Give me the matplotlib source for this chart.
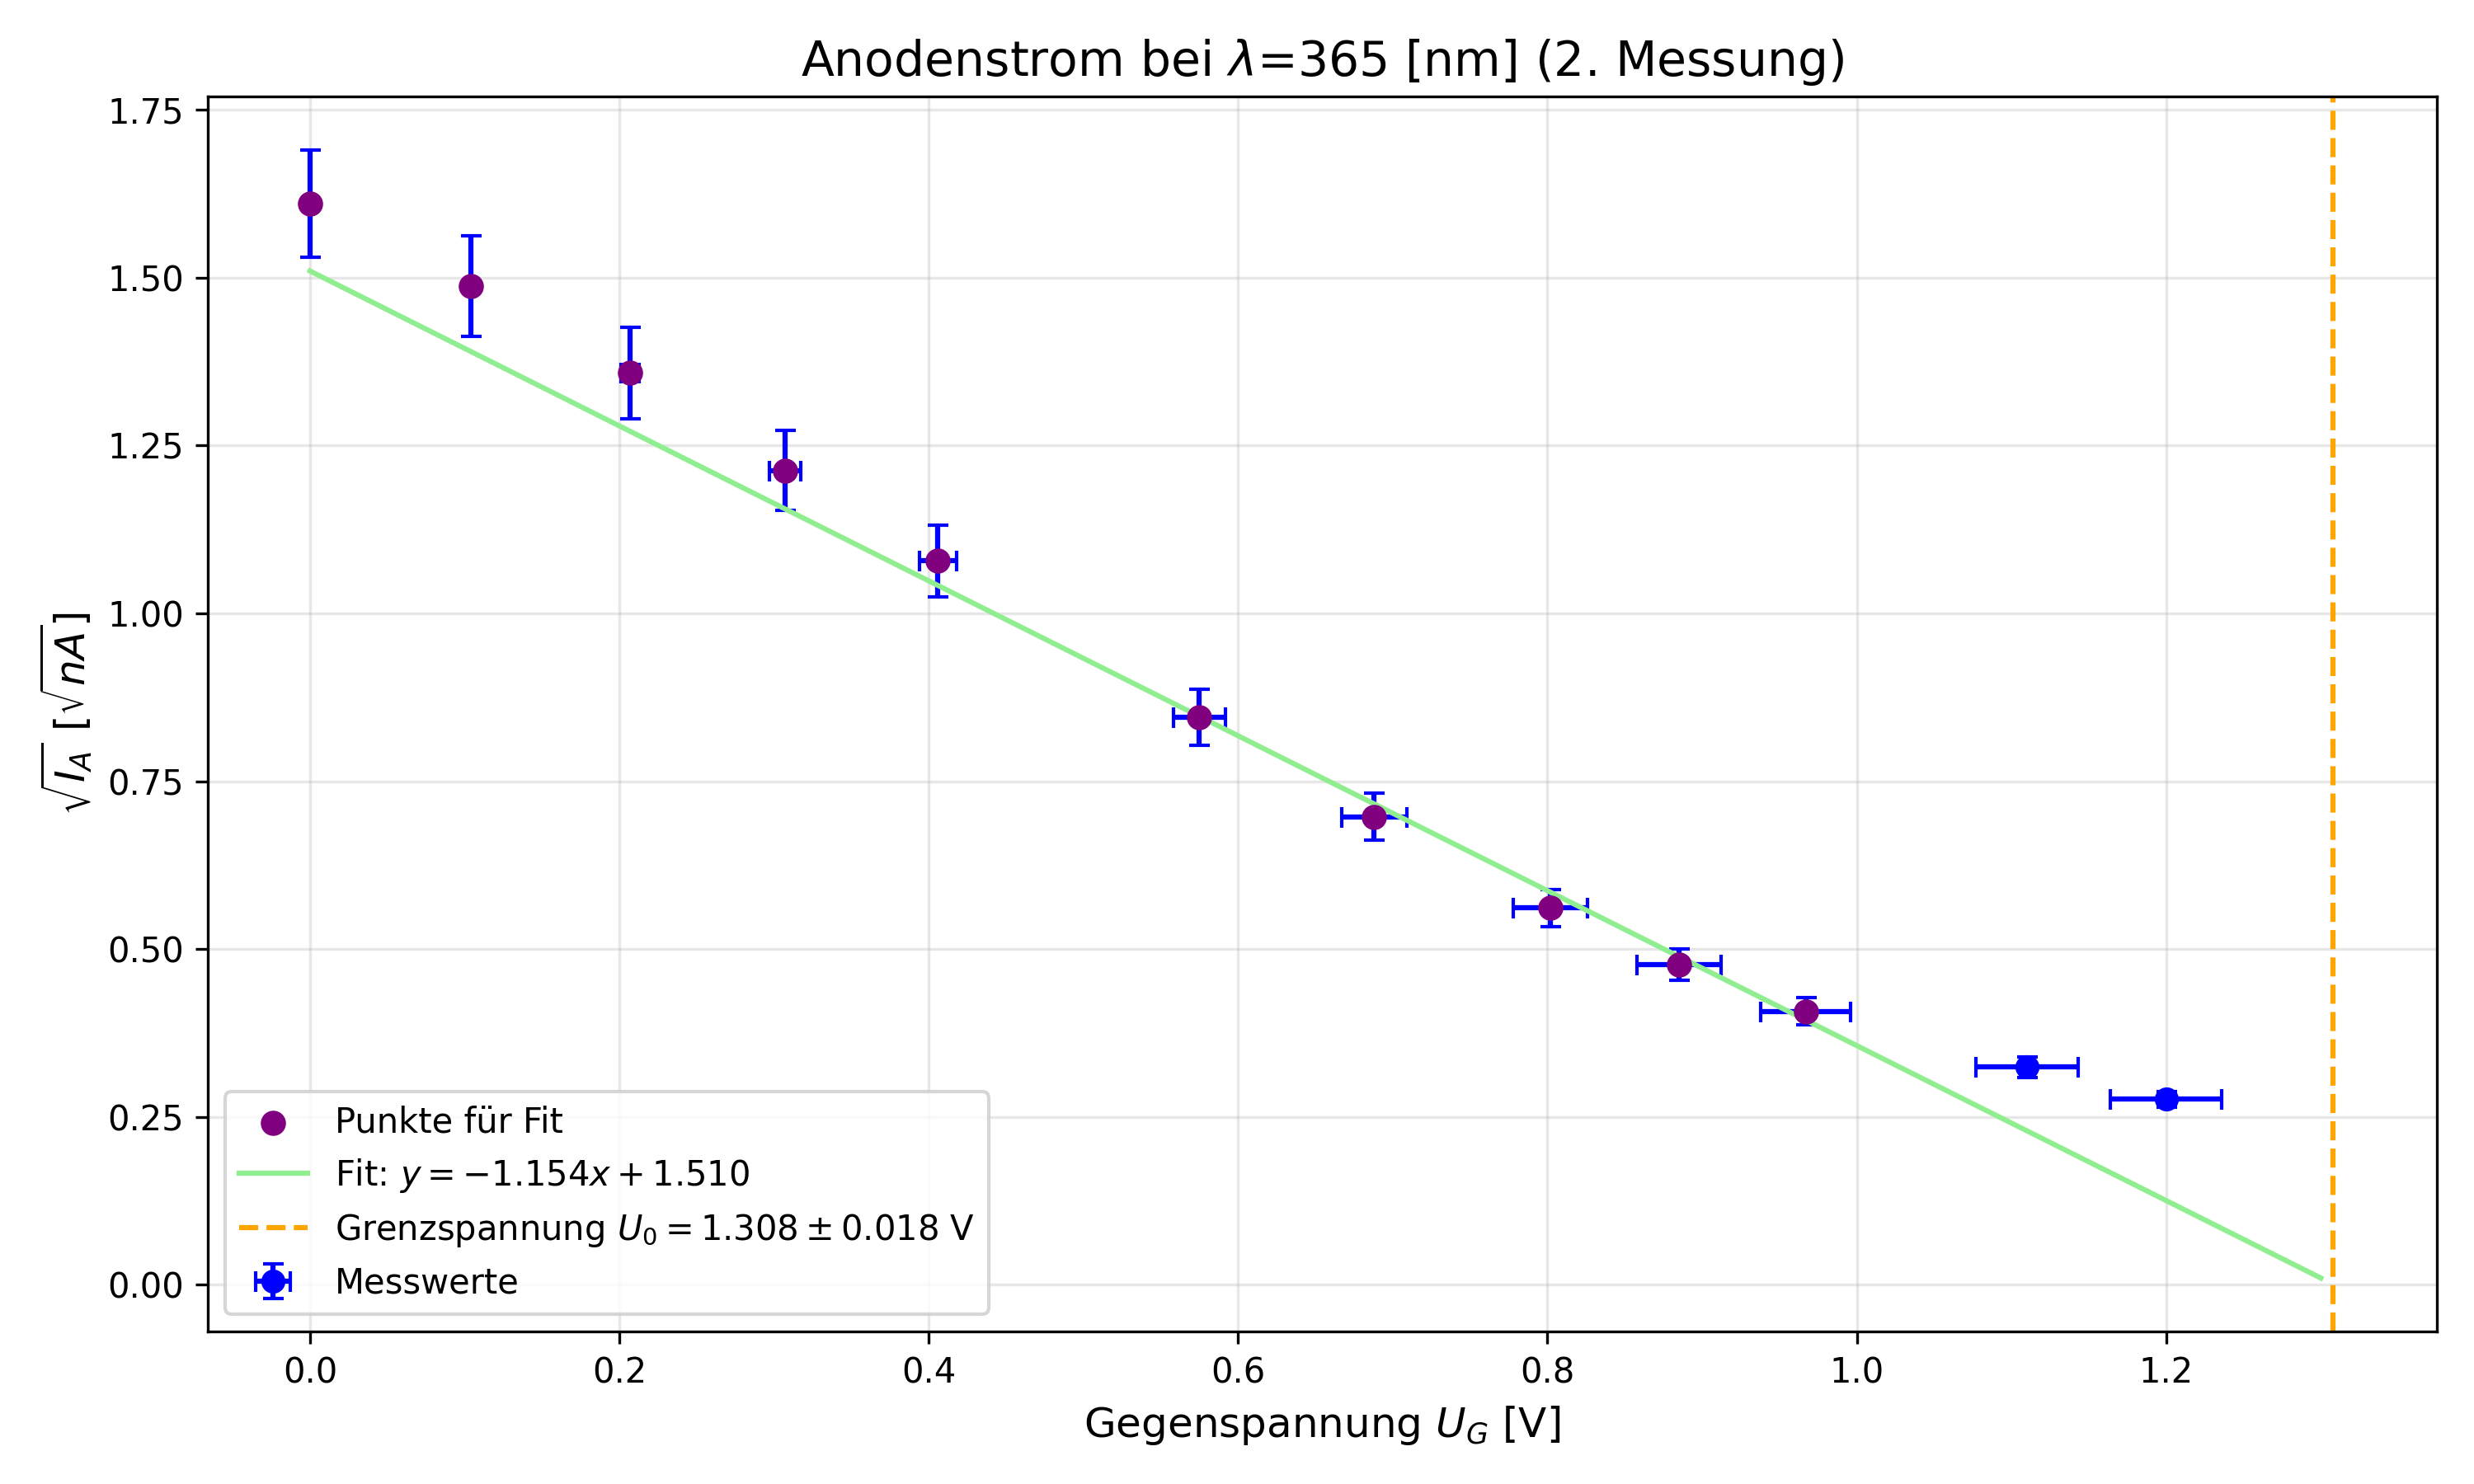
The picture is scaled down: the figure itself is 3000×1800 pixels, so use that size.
import matplotlib
matplotlib.use("Agg")
import matplotlib.pyplot as plt
import numpy as np

x = [0.0, 0.104, 0.207, 0.307, 0.406, 0.575, 0.688, 0.802, 0.885, 0.967, 1.110, 1.200]
y = [1.610, 1.487, 1.358, 1.213, 1.078, 0.845, 0.697, 0.561, 0.477, 0.407, 0.324, 0.276]
xerr = [0.0, 0.0, 0.006, 0.010, 0.012, 0.017, 0.021, 0.024, 0.027, 0.029, 0.033, 0.036]
yerr = [0.080, 0.075, 0.068, 0.060, 0.053, 0.042, 0.035, 0.028, 0.023, 0.020, 0.015, 0.012]
n_fit = 10
slope, intercept = -1.154, 1.510
U0 = 1.308

fig, ax = plt.subplots(figsize=(10, 6), dpi=300)
ax.errorbar(x, y, xerr=xerr, yerr=yerr, fmt='o', color='blue', ecolor='blue',
            capsize=3, elinewidth=1.5, markersize=6, label='Messwerte')
ax.scatter(x[:n_fit], y[:n_fit], color='purple', zorder=3, s=40, label='Punkte für Fit')
xf = np.linspace(0, 1.30, 100)
ax.plot(xf, slope * xf + intercept, color='lightgreen', label=r'Fit: $y = -1.154x + 1.510$')
ax.axvline(U0, color='orange', ls='--', label=r'Grenzspannung $U_0 = 1.308 \pm 0.018$ V')
ax.set_xlabel(r'Gegenspannung $U_G$ [V]', fontsize=12)
ax.set_ylabel(r'$\sqrt{I_A}$ [$\sqrt{nA}$]', fontsize=12)
ax.set_title(r'Anodenstrom bei $\lambda$=365 [nm] (2. Messung)', fontsize=14)
ax.grid(alpha=0.3)
ax.set_xlim(-0.066, 1.375)
ax.set_ylim(-0.07, 1.77)
ax.legend(loc='lower left')
fig.tight_layout()
fig.savefig('out.png')
